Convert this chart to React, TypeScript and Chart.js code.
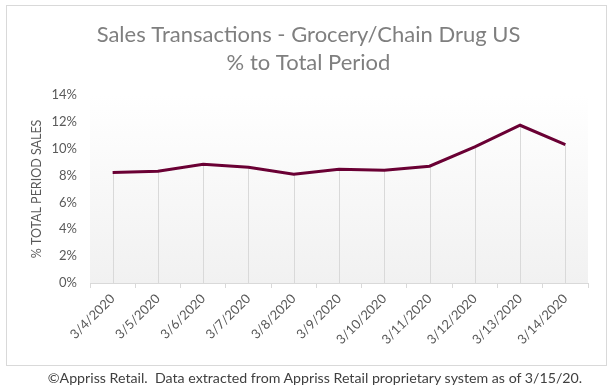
import React, { useEffect, useRef } from "react";
import { Chart, registerables } from "chart.js";

Chart.register(...registerables);

const categories = ["3/4/2020", "3/5/2020", "3/6/2020", "3/7/2020", "3/8/2020", "3/9/2020", "3/10/2020", "3/11/2020", "3/12/2020", "3/13/2020", "3/14/2020"];
const salesPct = [8.22, 8.32, 8.84, 8.62, 8.09, 8.47, 8.39, 8.69, 10.13, 11.74, 10.3];
const titleLines = ["Sales Transactions - Grocery/Chain Drug US", "% to Total Period"];
const yAxisTitle = "% TOTAL PERIOD SALES";
const footerText = "©Appriss Retail.  Data extracted from Appriss Retail proprietary system as of 3/15/20.";

const FONT = "Lato, 'Open Sans', sans-serif";

const bgPlugin = {
  id: "plotBg",
  beforeDraw(chart: any) {
    const { ctx, chartArea: a } = chart;
    if (!a) return;
    const g = ctx.createLinearGradient(0, a.top, 0, a.bottom);
    g.addColorStop(0, "#ffffff");
    g.addColorStop(1, "#f1f1f1");
    ctx.save();
    ctx.fillStyle = g;
    ctx.fillRect(a.left, a.top, a.right - a.left, a.bottom - a.top);
    ctx.restore();
  },
};

const dropLinePlugin = {
  id: "dropLines",
  beforeDatasetsDraw(chart: any) {
    const { ctx, chartArea: a } = chart;
    const meta = chart.getDatasetMeta(0);
    ctx.save();
    ctx.strokeStyle = "#d9d9d9";
    ctx.lineWidth = 1;
    meta.data.forEach((pt: any) => {
      const x = Math.round(pt.x) + 0.5;
      ctx.beginPath();
      ctx.moveTo(x, pt.y);
      ctx.lineTo(x, a.bottom);
      ctx.stroke();
    });
    ctx.restore();
  },
};

export default function App() {
  const ref = useRef<HTMLCanvasElement>(null);
  useEffect(() => {
    if (!ref.current) return;
    const chart = new Chart(ref.current, {
      type: "line",
      data: {
        labels: categories,
        datasets: [
          {
            data: salesPct,
            borderColor: "#6a0034",
            borderWidth: 3,
            pointRadius: 0,
            tension: 0,
            fill: false,
          },
        ],
      },
      options: {
        responsive: false,
        animation: false,
        layout: { padding: { left: 29, right: 26, top: 0, bottom: 27 } },
        plugins: {
          legend: { display: false },
          tooltip: { enabled: false },
          title: {
            display: true,
            text: titleLines,
            color: "#7f7f7f",
            font: { family: FONT, size: 22, weight: "normal", lineHeight: 1.27 },
            padding: { top: 21, bottom: 18 },
          },
        },
        scales: {
          x: {
            offset: true,
            grid: {
              display: true,
              offset: true,
              drawOnChartArea: false,
              drawTicks: true,
              tickLength: 5,
              color: "#d9d9d9",
            },
            border: { display: true, color: "#d9d9d9" },
            ticks: {
              color: "#595959",
              font: { family: FONT, size: 13 },
              minRotation: 45,
              maxRotation: 45,
              padding: 3,
              autoSkip: false,
            },
            afterFit(scale: any) {
              scale.height = 80;
            },
          },
          y: {
            min: 0,
            max: 14,
            grid: { display: false, drawTicks: false },
            border: { display: false },
            ticks: {
              stepSize: 2,
              color: "#595959",
              font: { family: FONT, size: 13 },
              padding: 13,
              callback: (v: any) => v + "%",
            },
            title: {
              display: true,
              text: yAxisTitle,
              color: "#595959",
              font: { family: FONT, size: 12.5 },
              padding: { top: 0, bottom: 0 },
            },
            afterFit(scale: any) {
              scale.width = 61;
            },
          },
        },
      },
      plugins: [bgPlugin, dropLinePlugin],
    });
    return () => chart.destroy();
  }, []);

  return (
    <div style={{ position: "absolute", left: 0, top: 0, width: 614, height: 390, background: "#ffffff" }}>
      <canvas ref={ref} width={614} height={390} style={{ position: "absolute", left: 0, top: 0, width: 614, height: 390 }} />
      <div
        style={{
          position: "absolute",
          left: 6,
          top: 5,
          width: 601,
          height: 361,
          boxSizing: "border-box",
          border: "1px solid #d9d9d9",
          pointerEvents: "none",
        }}
      />
      <div
        style={{
          position: "absolute",
          left: 8,
          top: 369,
          width: 614,
          textAlign: "center",
          fontFamily: FONT,
          fontSize: 14.2,
          color: "#404040",
          lineHeight: "18px",
          whiteSpace: "pre",
        }}
      >
        {footerText}
      </div>
    </div>
  );
}
